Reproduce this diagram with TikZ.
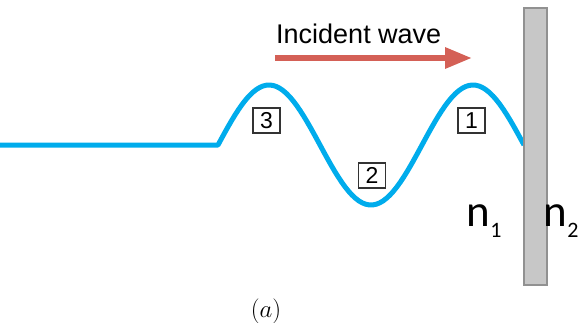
\documentclass[tikz,border=0pt]{standalone}
\usepackage{fontspec}
\usepackage{tikz}
\usetikzlibrary{arrows.meta}
\newfontfamily\labelfont{Liberation Sans}
\newfontfamily\indexfont{Carlito}
\definecolor{wavecol}{RGB}{0,172,236}
\definecolor{arrowcol}{RGB}{212,96,86}
\definecolor{wallfill}{RGB}{199,199,199}
\definecolor{walldraw}{RGB}{145,145,145}

\begin{document}
\begin{tikzpicture}[x=1pt, y=-1pt, wave/.style = {draw=wavecol, line width=5pt, line join=round}, numbox/.style = {draw=black!80, line width=1.3pt, rectangle, inner sep=0pt, minimum width=27pt, minimum height=25pt, font=\labelfont\fontsize{23}{23}\selectfont}, index/.style = {anchor=base west, inner sep=0pt, font=\indexfont\fontsize{45}{45}\selectfont}]
        \useasboundingbox (0, 0) rectangle (581, 322);
        % string and wave
        \draw[wave] (0, 145) -- (218, 145) -- plot[domain=218:524, samples=90] (\x, {145-60*sin((\x-218)*1.76471)});
        % boundary
        \node[draw=walldraw, fill=wallfill, line width=1.5pt, rectangle, minimum width=23pt, minimum height=277pt, inner sep=0pt] (wall) at (535.5, 146.5) {};
        \node[anchor=base west, inner sep=0pt, font=\labelfont\fontsize{27}{27}\selectfont] (title) at (276, 43) {Incident wave};
        \coordinate (from) at (275, 58);
        \coordinate (to) at (472, 58);
        \draw[-{Triangle[length=27pt, width=20pt]}, draw=arrowcol, fill=arrowcol, line width=6pt] (from) -- (to);
        \node[numbox] (b1) at (471.5, 120.5) {1};
        \node[numbox] (b2) at (372, 175.5) {2};
        \node[numbox] (b3) at (266.5, 120.5) {3};
        \node[index] (n1) at (466.5, 226) {n\raisebox{-11pt}{\fontsize{22}{22}\selectfont 1}};
        \node[index] (n2) at (543.5, 226) {n\raisebox{-11pt}{\fontsize{22}{22}\selectfont 2}};
        \node[anchor=base, inner sep=0pt, font=\fontsize{24}{24}\selectfont] (cap) at (266, 317) {$(a)$};
    \end{tikzpicture}
\end{document}
